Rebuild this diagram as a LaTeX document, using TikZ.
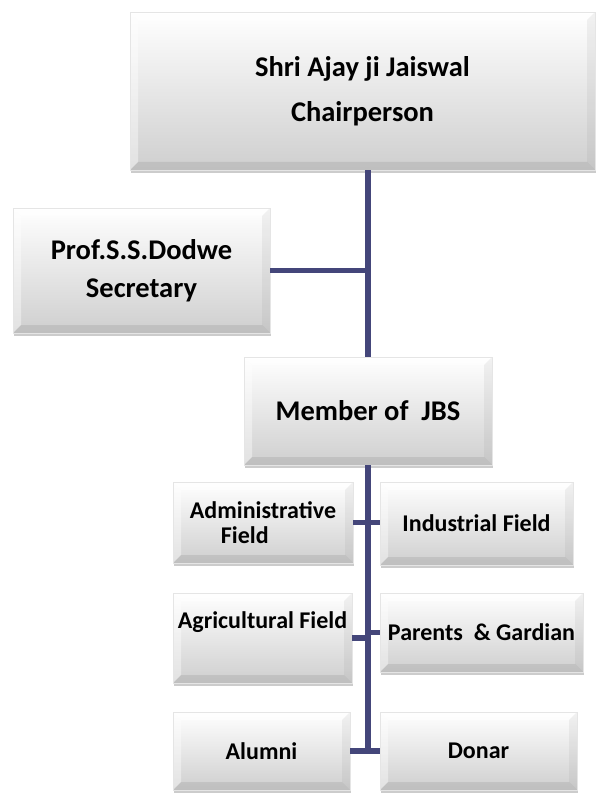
\documentclass[tikz,border=0pt]{standalone}
\usepackage{fontspec}
\setmainfont{Carlito}
\usepackage{xcolor}
\usepackage{tikz}
\usetikzlibrary{shadows}

\definecolor{linkblue}{RGB}{68,70,122}

\begin{document}
\begin{tikzpicture}[x=1pt,y=-1pt,
    box/.style={rectangle, draw=gray!20, line width=0.6pt, top color=white, bottom color=gray!38,
        drop shadow={shadow xshift=1pt, shadow yshift=-3pt, opacity=0.4},
        path picture={
            \fill[white, opacity=0.6] (path picture bounding box.north west) -- (path picture bounding box.north east)
                -- ([xshift=-8pt,yshift=-8pt]path picture bounding box.north east)
                -- ([xshift=8pt,yshift=-8pt]path picture bounding box.north west) -- cycle;
            \fill[white, opacity=0.4] (path picture bounding box.north west) -- (path picture bounding box.south west)
                -- ([xshift=8pt,yshift=8pt]path picture bounding box.south west)
                -- ([xshift=8pt,yshift=-8pt]path picture bounding box.north west) -- cycle;
            \fill[gray, opacity=0.1] (path picture bounding box.north east) -- (path picture bounding box.south east)
                -- ([xshift=-8pt,yshift=8pt]path picture bounding box.south east)
                -- ([xshift=-8pt,yshift=-8pt]path picture bounding box.north east) -- cycle;
            \fill[gray, opacity=0.2] (path picture bounding box.south west) -- (path picture bounding box.south east)
                -- ([xshift=-8pt,yshift=8pt]path picture bounding box.south east)
                -- ([xshift=8pt,yshift=8pt]path picture bounding box.south west) -- cycle;
        },
        font=\bfseries, align=center, inner sep=0pt},
    link/.style={draw=linkblue, line width=5.5pt}]
\useasboundingbox (0,0) rectangle (597,794);

% Top level
\node[box, minimum width=465pt, minimum height=158pt, font=\bfseries\fontsize{28.5}{45}\selectfont]
    (chair) at (362.5,91) {Shri Ajay ji Jaiswal\\Chairperson};
\node[box, minimum width=257pt, minimum height=125pt, font=\bfseries\fontsize{28.5}{38}\selectfont]
    (secretary) at (141.5,270.5) {Prof.S.S.Dodwe\\Secretary};
\node[box, minimum width=248pt, minimum height=108pt, font=\bfseries\fontsize{28.5}{34}\selectfont]
    (member) at (368,411) {Member of \ JBS};

% Fields
\node[box, minimum width=180pt, minimum height=81pt, align=left, font=\bfseries\fontsize{24}{25}\selectfont]
    (admin) at (263,522.5) {Administrative\\\hspace*{31pt}Field};
\node[box, minimum width=193pt, minimum height=83pt, font=\bfseries\fontsize{24}{25}\selectfont]
    (industrial) at (476.5,523.5) {Industrial Field};
\node[box, minimum width=179pt, minimum height=90pt, text depth=36pt, font=\bfseries\fontsize{24}{25}\selectfont]
    (agri) at (262.5,638) {Agricultural Field};
\node[box, minimum width=203pt, minimum height=79pt, font=\bfseries\fontsize{24}{25}\selectfont]
    (parents) at (481.5,632.5) {Parents \ \& Gardian};
\node[box, minimum width=177pt, minimum height=78pt, font=\bfseries\fontsize{24}{25}\selectfont]
    (alumni) at (261.5,751) {Alumni};
\node[box, minimum width=197pt, minimum height=78pt, font=\bfseries\fontsize{24}{25}\selectfont]
    (donar) at (478.5,751) {Donar};

% Trunk
\draw[link] (member.north |- chair.south) -- (member.north);
\draw[link] (secretary.east) -- (secretary.east -| member.north);
\draw[link] (member.south) -- (member.south |- alumni.east);

% Branches
\draw[link] (admin.east) -- (industrial.west |- admin.east);
\draw[link] (agri.east) -- (agri.east -| member.south);
\draw[link] (parents.west) -- (parents.west -| member.south);
\draw[link] (alumni.east) -- (donar.west);
\end{tikzpicture}
\end{document}
